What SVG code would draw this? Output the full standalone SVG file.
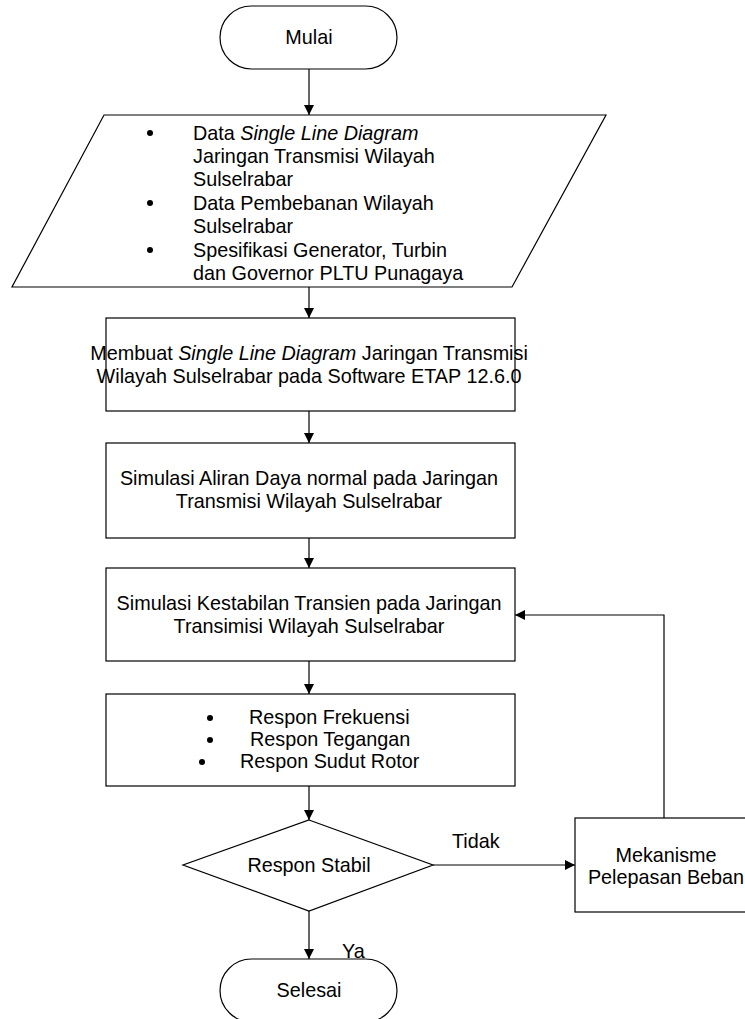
<svg xmlns="http://www.w3.org/2000/svg" width="745" height="1019" viewBox="0 0 745 1019">
<style>
.s{fill:#fff;stroke:#000;stroke-width:1.2}
.t{font-family:"Liberation Sans",Arial,sans-serif;font-size:19.8px;fill:#000}
.c{text-anchor:middle}
.l{fill:none;stroke:#000;stroke-width:1.2}
</style>
<defs>
<marker id="a" markerWidth="10" markerHeight="10" refX="10" refY="5" orient="auto" markerUnits="userSpaceOnUse">
<path d="M0,0 L10,5 L0,10 Z" fill="#000"/>
</marker>
</defs>
<rect width="745" height="1019" fill="#fff"/>
<g id="connectors">
<line class="l" x1="309" y1="69" x2="309" y2="115" marker-end="url(#a)"/>
<line class="l" x1="309" y1="287" x2="309" y2="318" marker-end="url(#a)"/>
<line class="l" x1="309" y1="411" x2="309" y2="443" marker-end="url(#a)"/>
<line class="l" x1="309" y1="538" x2="309" y2="568" marker-end="url(#a)"/>
<line class="l" x1="309" y1="661" x2="309" y2="694" marker-end="url(#a)"/>
<line class="l" x1="309" y1="786" x2="309" y2="820" marker-end="url(#a)"/>
<line class="l" x1="309" y1="911" x2="309" y2="959" marker-end="url(#a)"/>
<line class="l" x1="433" y1="865" x2="575" y2="865" marker-end="url(#a)"/>
<polyline class="l" points="664,818 664,615 515,615" marker-end="url(#a)"/>
<text class="t" x="452" y="848">Tidak</text>
<text class="t" x="342" y="958">Ya</text>
</g>
<g id="mulai">
<rect class="s" x="220" y="6" width="177" height="63" rx="31.5"/>
<text class="t c" x="309" y="44">Mulai</text>
</g>
<g id="data">
<polygon class="s" points="104,115 606,115 512,287 12,287"/>
<g class="t">
<circle cx="150" cy="133" r="3"/>
<text x="193" y="140">Data <tspan font-style="italic">Single Line Diagram</tspan></text>
<text x="193" y="163">Jaringan Transmisi Wilayah</text>
<text x="193" y="186">Sulselrabar</text>
<circle cx="150" cy="203" r="3"/>
<text x="193" y="210">Data Pembebanan Wilayah</text>
<text x="193" y="233">Sulselrabar</text>
<circle cx="150" cy="250" r="3"/>
<text x="193" y="257">Spesifikasi Generator, Turbin</text>
<text x="193" y="280">dan Governor PLTU Punagaya</text>
</g>
</g>
<g id="sld">
<rect class="s" x="106" y="318" width="409" height="93"/>
<text class="t c" x="309" y="360">Membuat <tspan font-style="italic">Single Line Diagram</tspan> Jaringan Transmisi</text>
<text class="t c" x="309" y="383">Wilayah Sulselrabar pada Software ETAP 12.6.0</text>
</g>
<g id="aliran">
<rect class="s" x="106" y="443" width="409" height="95"/>
<text class="t c" x="309" y="485">Simulasi Aliran Daya normal pada Jaringan</text>
<text class="t c" x="309" y="508">Transmisi Wilayah Sulselrabar</text>
</g>
<g id="transien">
<rect class="s" x="106" y="568" width="409" height="93"/>
<text class="t c" x="309" y="610">Simulasi Kestabilan Transien pada Jaringan</text>
<text class="t c" x="309" y="633">Transimisi Wilayah Sulselrabar</text>
</g>
<g id="respon">
<rect class="s" x="106" y="694" width="409" height="92"/>
<circle cx="210" cy="718" r="3"/>
<circle cx="210" cy="740" r="3"/>
<circle cx="202" cy="762" r="3"/>
<text class="t" x="249" y="724">Respon Frekuensi</text>
<text class="t" x="250" y="746">Respon Tegangan</text>
<text class="t" x="240" y="768">Respon Sudut Rotor</text>
</g>
<g id="stabil">
<polygon class="s" points="309,820 433,865 309,911 183,865"/>
<text class="t c" x="309" y="872">Respon Stabil</text>
</g>
<g id="mekanisme">
<rect class="s" x="575" y="818" width="175" height="94"/>
<text class="t c" x="666" y="862">Mekanisme</text>
<text class="t c" x="666" y="884">Pelepasan Beban</text>
</g>
<g id="selesai">
<rect class="s" x="220" y="959" width="177" height="63" rx="31.5"/>
<text class="t c" x="309" y="997">Selesai</text>
</g>
</svg>
